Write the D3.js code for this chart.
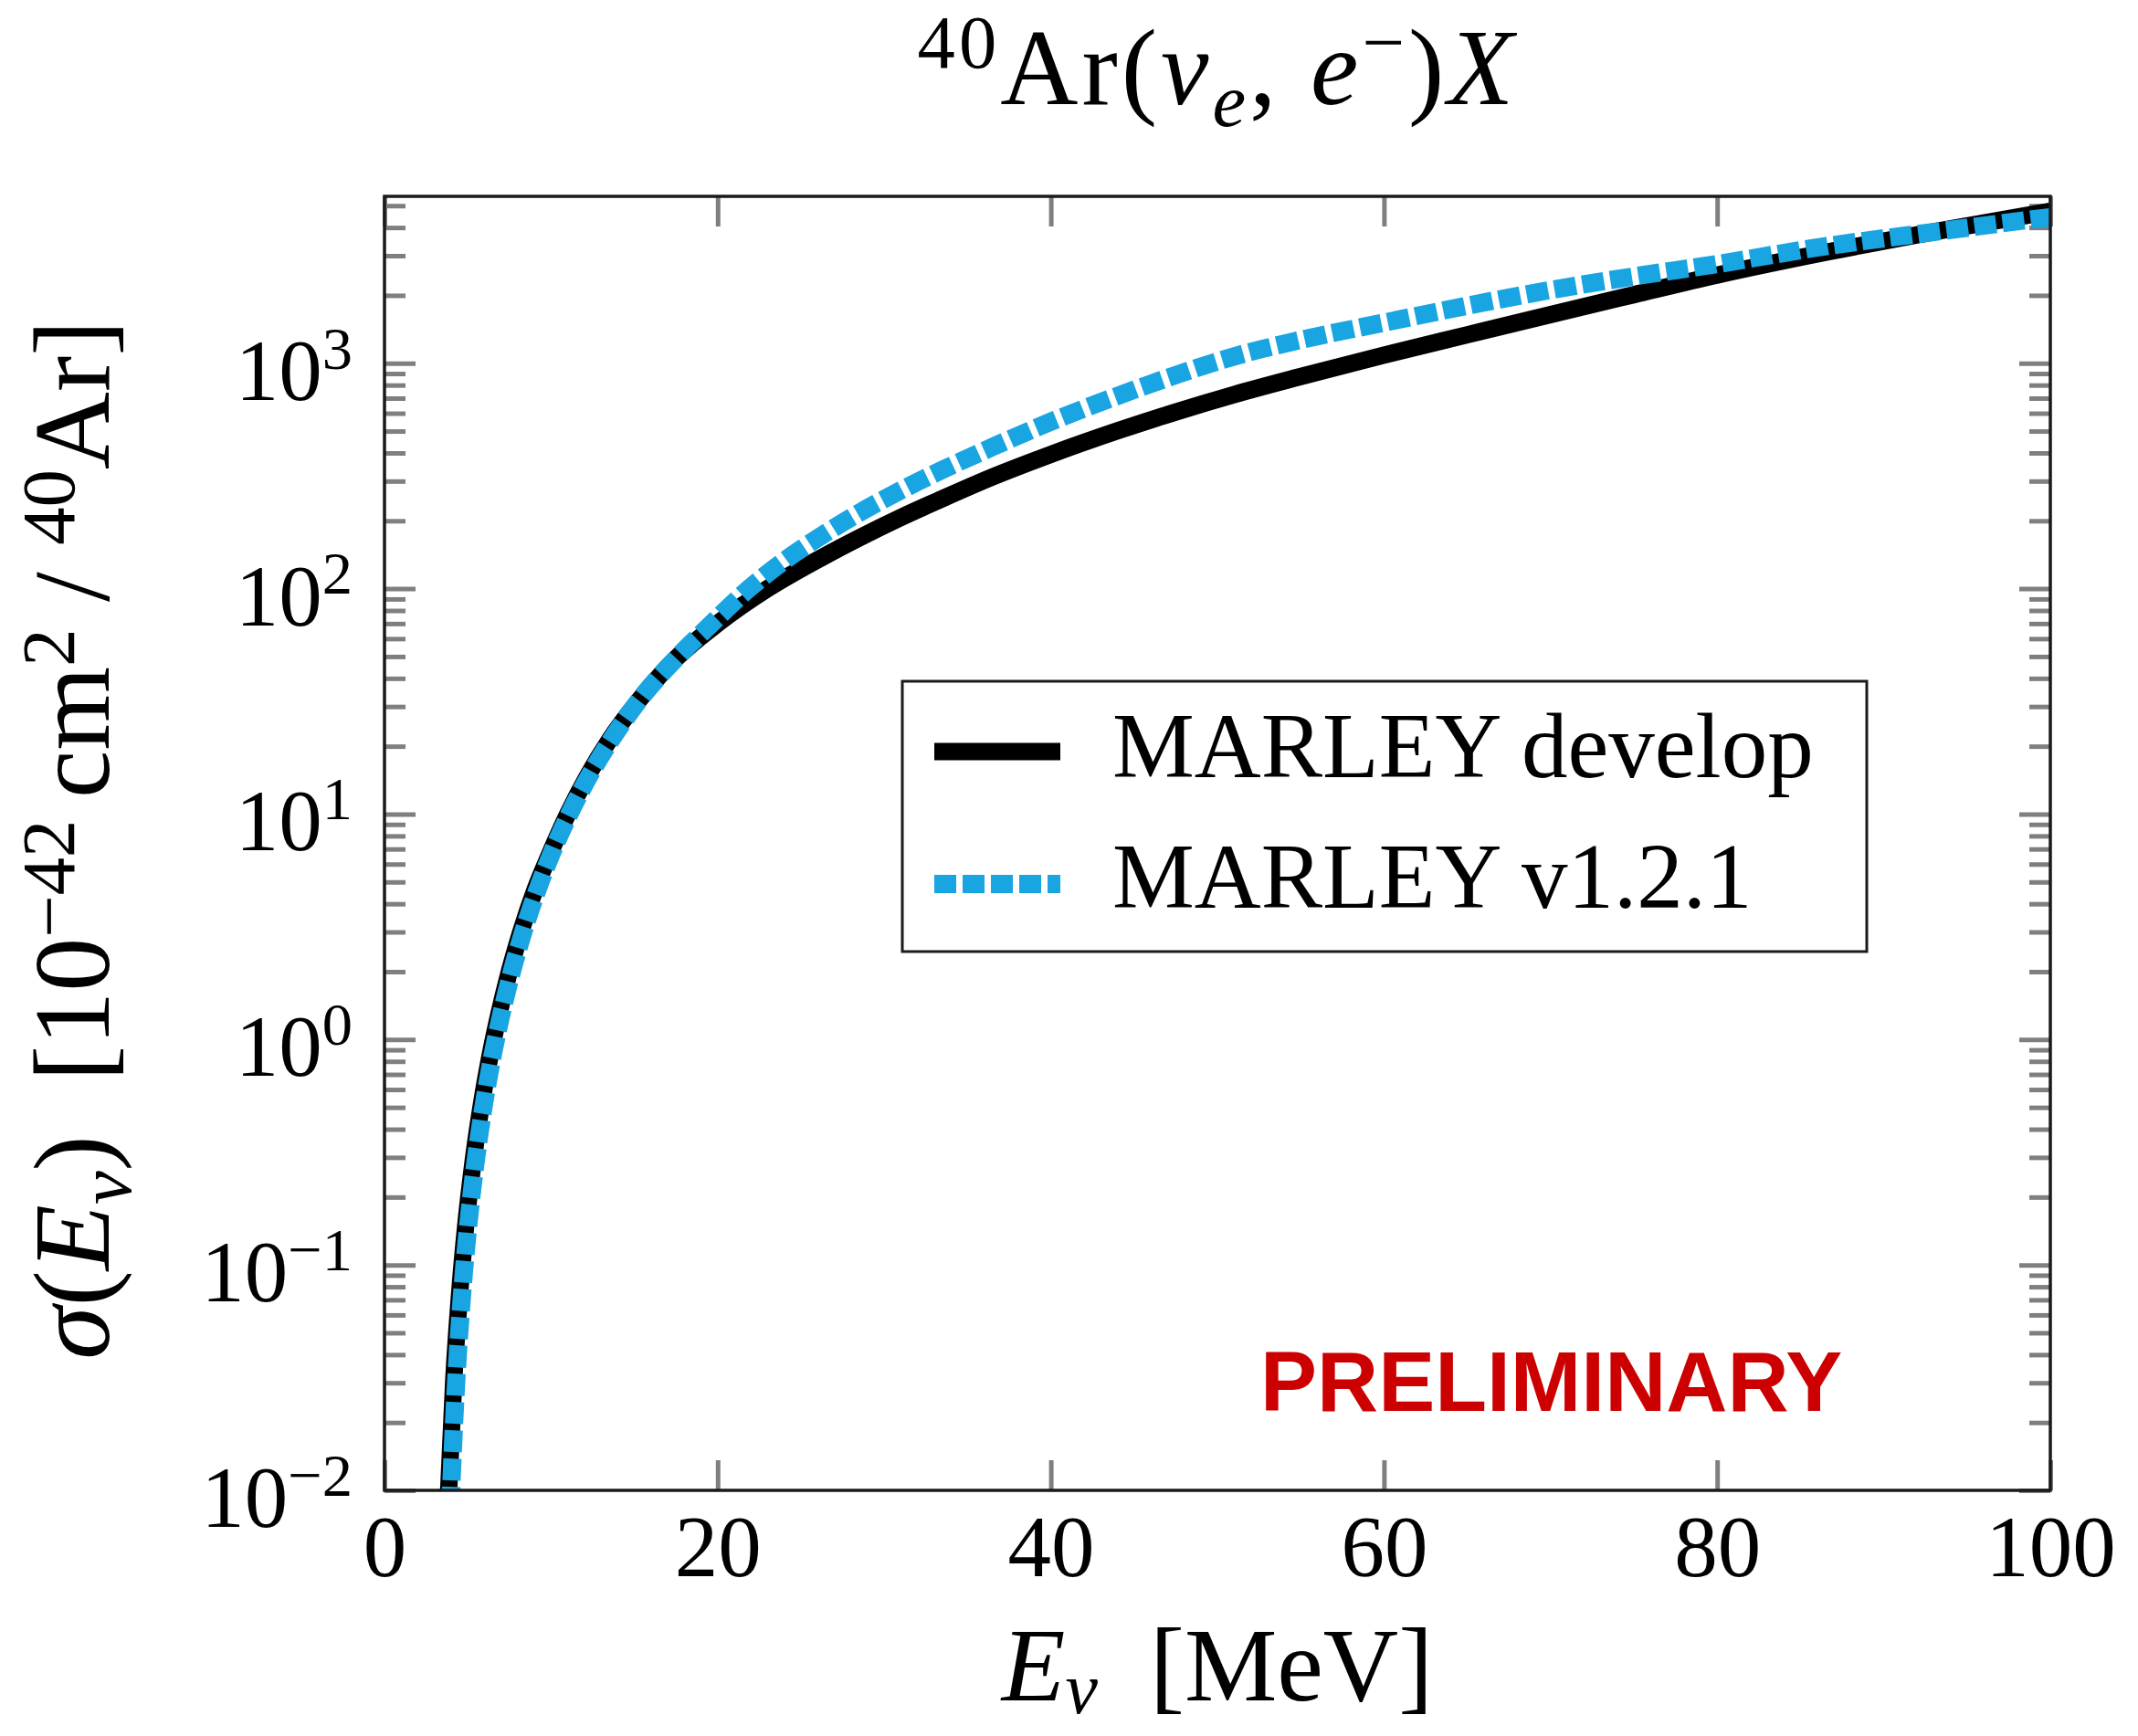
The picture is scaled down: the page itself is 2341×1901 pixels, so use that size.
<!DOCTYPE html>
<html>
<head>
<meta charset="utf-8">
<script src="https://cdn.jsdelivr.net/npm/d3@7"></script>
<style>
  html, body { margin: 0; padding: 0; background: #fff; }
  svg { display: block; }
</style>
</head>
<body>
<svg id="chart" width="2341" height="1901"></svg>
<script>
// ---------------- data ----------------
const energyV121 = [3.9, 4.0, 4.3, 4.65, 5.0, 5.5, 6.0, 6.5, 7.0, 7.5, 8.3, 9.2, 10.0, 11.1, 12.3, 13.6, 15.5, 17.5, 19.5, 21.8, 24.0, 26.3, 28.5, 31.0, 33.4, 36.5, 40.0, 44.0, 47.6, 51.0, 54.8, 60.0, 65.0, 70.0, 75.0, 80.0, 86.6, 93.3, 100.0];
const sigmaV121  = [0.0062, 0.0099, 0.030, 0.073, 0.143, 0.299, 0.533, 0.857, 1.28, 1.82, 2.95, 4.65, 6.6, 10, 14.8, 21.3, 33.5, 49, 68.4, 98.9, 133, 173, 217, 273, 334, 425, 550, 716, 891, 1072, 1259, 1514, 1799, 2113, 2427, 2754, 3311, 3846, 4446];

const energyDevelop = [3.75, 3.85, 4.15, 4.5, 4.85, 5.35, 5.85, 6.35, 6.85, 7.35, 8.15, 9.05, 9.9, 11.0, 12.2, 13.5, 15.5, 17.5, 20.0, 23.0, 26.3, 28.5, 31.0, 33.4, 36.5, 40.0, 44.0, 47.6, 51.0, 54.8, 60.0, 65.0, 70.0, 75.0, 80.0, 86.6, 93.3, 100.0];
const sigmaDevelop  = [0.0062, 0.0099, 0.030, 0.073, 0.143, 0.299, 0.533, 0.857, 1.28, 1.82, 2.95, 4.65, 6.6, 10, 14.8, 21.3, 33.5, 49, 70, 100, 138, 168, 207, 249, 313, 394, 501, 611, 726, 865, 1086, 1337, 1644, 2014, 2460, 3112, 3864, 4721];

const seriesNames = ["MARLEY develop", "MARLEY v1.2.1"];
const xTickValues = [0, 20, 40, 60, 80, 100];
const yTickExponents = [-2, -1, 0, 1, 2, 3];
const xDomain = [0, 100];
const yDomain = [0.01, 5500];
const watermark = "PRELIMINARY";

// ---------------- layout ----------------
const plot = { left: 421, right: 2245, top: 215, bottom: 1632 };
const serif = '"Liberation Serif", "DejaVu Serif", serif';
const svg = d3.select("#chart");

const x = d3.scaleLinear().domain(xDomain).range([plot.left, plot.right]);
const y = d3.scaleLog().domain(yDomain).range([plot.bottom, plot.top]);

const tickColor = "#7f7f7f";
const blue = "#19a5e1";

// helper for rich text with super/subscripts
function rich(sel, segs, size, supShift = 0.36, subShift = 0.2) {
  sel.style("font-family", serif).style("fill", "#000");
  let cur = 0;
  segs.forEach(s => {
    const target = s.pos === "sup" ? -size * supShift : s.pos === "sub" ? size * subShift : 0;
    const ts = sel.append("tspan").attr("dy", target - cur).text(s.t);
    cur = target;
    if (s.pos) ts.attr("font-size", size * 0.7);
    if (s.it) ts.style("font-style", "italic");
  });
}

// ---------------- ticks ----------------
const majorVals = yTickExponents.map(k => Math.pow(10, k));
const minorVals = [];
for (let k = -2; k <= 3; k++) for (let m = 2; m <= 9; m++) {
  const v = m * Math.pow(10, k);
  if (v > yDomain[0] && v < yDomain[1]) minorVals.push(v);
}

function styleTicks(g) {
  g.select(".domain").remove();
  g.selectAll("line").attr("stroke", tickColor).attr("stroke-width", 5);
}

svg.append("g").attr("transform", `translate(${plot.left},0)`)
  .call(d3.axisLeft(y).tickValues(majorVals).tickSize(-34).tickFormat(""))
  .call(styleTicks);
svg.append("g").attr("transform", `translate(${plot.left},0)`)
  .call(d3.axisLeft(y).tickValues(minorVals).tickSize(-23).tickFormat(""))
  .call(styleTicks);
svg.append("g").attr("transform", `translate(${plot.right},0)`)
  .call(d3.axisRight(y).tickValues(majorVals).tickSize(-34).tickFormat(""))
  .call(styleTicks);
svg.append("g").attr("transform", `translate(${plot.right},0)`)
  .call(d3.axisRight(y).tickValues(minorVals).tickSize(-23).tickFormat(""))
  .call(styleTicks);
svg.append("g").attr("transform", `translate(0,${plot.top})`)
  .call(d3.axisTop(x).tickValues(xTickValues).tickSize(-33).tickFormat(""))
  .call(styleTicks);
const xAxisG = svg.append("g").attr("transform", `translate(0,${plot.bottom})`)
  .call(d3.axisBottom(x).tickValues(xTickValues).tickSize(-33).tickPadding(27).tickFormat(d3.format("d")))
  .call(styleTicks);
xAxisG.selectAll("text")
  .attr("font-size", 95)
  .style("font-family", serif)
  .style("fill", "#000");

// y tick labels with superscripts
yTickExponents.forEach(k => {
  const t = svg.append("text")
    .attr("x", 386)
    .attr("y", y(Math.pow(10, k)) + 40)
    .attr("text-anchor", "end")
    .attr("font-size", 95);
  rich(t, [{ t: "10" }, { t: (k < 0 ? "\u2212" + Math.abs(k) : String(k)), pos: "sup" }], 95);
});

// ---------------- curves ----------------
svg.append("clipPath").attr("id", "plotClip")
  .append("rect")
  .attr("x", plot.left).attr("y", plot.top)
  .attr("width", plot.right - plot.left).attr("height", plot.bottom - plot.top);

const line = d3.line()
  .x(d => x(d[0]))
  .y(d => y(d[1]))
  .curve(d3.curveMonotoneX);

const curves = svg.append("g").attr("clip-path", "url(#plotClip)");
curves.append("path")
  .datum(d3.zip(energyDevelop, sigmaDevelop))
  .attr("d", line)
  .attr("fill", "none")
  .attr("stroke", "#000")
  .attr("stroke-width", 19);
curves.append("path")
  .datum(d3.zip(energyV121, sigmaV121))
  .attr("d", line)
  .attr("fill", "none")
  .attr("stroke", blue)
  .attr("stroke-width", 20)
  .attr("stroke-dasharray", "24 7");

// ---------------- frame ----------------
svg.append("rect")
  .attr("x", plot.left).attr("y", plot.top)
  .attr("width", plot.right - plot.left).attr("height", plot.bottom - plot.top)
  .attr("fill", "none").attr("stroke", "#1a1a1a").attr("stroke-width", 3.5);

// ---------------- legend ----------------
const leg = svg.append("g");
leg.append("rect")
  .attr("x", 988).attr("y", 746).attr("width", 1056).attr("height", 296)
  .attr("fill", "#fff").attr("stroke", "#1a1a1a").attr("stroke-width", 3);
leg.append("line")
  .attr("x1", 1023).attr("x2", 1161).attr("y1", 823).attr("y2", 823)
  .attr("stroke", "#000").attr("stroke-width", 19);
leg.append("line")
  .attr("x1", 1023).attr("x2", 1161).attr("y1", 968).attr("y2", 968)
  .attr("stroke", blue).attr("stroke-width", 20).attr("stroke-dasharray", "24 7");
[851, 994].forEach((yy, i) => {
  leg.append("text").attr("x", 1218).attr("y", yy).attr("font-size", 101)
    .style("font-family", serif).style("fill", "#000")
    .text(seriesNames[i]);
});

// ---------------- watermark ----------------
svg.append("text")
  .attr("x", 1380).attr("y", 1545)
  .attr("font-size", 93)
  .style("font-family", '"Liberation Sans", Arial, sans-serif')
  .style("font-weight", "bold")
  .style("fill", "#cc0000")
  .text(watermark);

// ---------------- title ----------------
const title = svg.append("text")
  .attr("x", (plot.left + plot.right) / 2).attr("y", 114)
  .attr("text-anchor", "middle").attr("font-size", 118)
  .style("letter-spacing", "4px");
rich(title, [
  { t: "40", pos: "sup" }, { t: "Ar(" }, { t: "\u03bd", it: true }, { t: "e", it: true, pos: "sub" },
  { t: ", " }, { t: "e", it: true }, { t: "\u2212", pos: "sup" }, { t: ")" }, { t: "X", it: true }
], 118, 0.34, 0.2);

// ---------------- x label ----------------
const xl = svg.append("text")
  .attr("x", (plot.left + plot.right) / 2).attr("y", 1862)
  .attr("text-anchor", "middle").attr("font-size", 114);
rich(xl, [{ t: "E", it: true }, { t: "\u03bd", it: true, pos: "sub" }, { t: "\u2002[MeV]" }], 114, 0.36, 0.12);

// ---------------- y label ----------------
const yl = svg.append("text")
  .attr("transform", `translate(119,${(plot.top + plot.bottom) / 2 - 4}) rotate(-90)`)
  .attr("text-anchor", "middle").attr("font-size", 118);
rich(yl, [
  { t: "\u03c3", it: true }, { t: "(" }, { t: "E", it: true }, { t: "\u03bd", it: true, pos: "sub" },
  { t: ")\u2002[10" }, { t: "\u221242", pos: "sup" }, { t: "\u2009cm" }, { t: "2", pos: "sup" },
  { t: " / " }, { t: "40", pos: "sup" }, { t: "Ar]" }
], 118, 0.32, 0.2);
</script>
</body>
</html>
